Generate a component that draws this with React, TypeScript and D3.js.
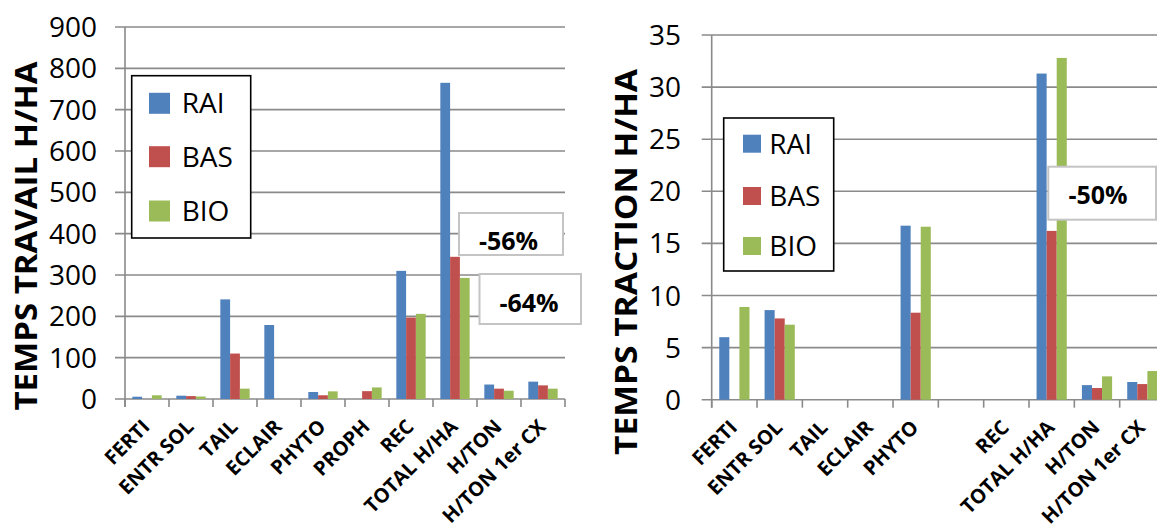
import React from "react";
import * as d3 from "d3";

const seriesNames = ["RAI", "BAS", "BIO"];
const seriesColors = ["#4f81bd", "#c0504d", "#9bbb59"];

const leftCategories = ["FERTI", "ENTR SOL", "TAIL", "ECLAIR", "PHYTO", "PROPH", "REC", "TOTAL H/HA", "H/TON", "H/TON 1er CX"];
const leftRAI = [5.5, 8, 241, 179, 17, 0, 310, 765, 35, 42];
const leftBAS = [0, 7, 110, 0, 9, 19, 197, 344, 25, 33];
const leftBIO = [9, 6, 25, 0, 18.5, 28, 206, 293, 20, 25];
const leftTicks = [0, 100, 200, 300, 400, 500, 600, 700, 800, 900];

const rightCategories = ["FERTI", "ENTR SOL", "TAIL", "ECLAIR", "PHYTO", "", "REC", "TOTAL H/HA", "H/TON", "H/TON 1er CX"];
const rightRAI = [6, 8.6, 0, 0, 16.7, 0, 0, 31.3, 1.4, 1.7];
const rightBAS = [0, 7.8, 0, 0, 8.35, 0, 0, 16.2, 1.12, 1.5];
const rightBIO = [8.9, 7.2, 0, 0, 16.6, 0, 0, 32.8, 2.24, 2.75];
const rightTicks = [0, 5, 10, 15, 20, 25, 30, 35];

const FONT = "'Open Sans', sans-serif";
const GRID = "#8a8a8a";

type ChartProps = {
  categories: string[];
  values: number[][];
  ticks: number[];
  x0: number;
  x1: number;
  yTop: number;
  yBottom: number;
  yMax: number;
  gridLeft: number;
  tickLabelX: number;
  title: string;
  titleX: number;
  titleCenterY: number;
  titleLength: number;
  legend: { x: number; y: number; w: number; h: number; sw: number; rows: number[]; textX: number; swX: number };
  notes: { x: number; y: number; w: number; h: number; text: string; tx: number; ty: number }[];
};

function BarChart(p: ChartProps) {
  const idx = p.categories.map((_, i) => String(i));
  const x = d3.scaleBand<string>().domain(idx).range([p.x0, p.x1]).paddingInner(0).paddingOuter(0);
  const xs = d3.scaleBand<string>().domain(seriesNames).range([0, x.bandwidth()]).paddingInner(0).paddingOuter(0.75);
  const y = d3.scaleLinear().domain([0, p.yMax]).range([p.yBottom, p.yTop]);
  const boundaries = d3.range(p.categories.length + 1).map((i) => p.x0 + i * x.step());
  return (
    <g>
      {p.ticks.map((t) => (
        <g key={"g" + t}>
          <line x1={p.gridLeft} x2={p.x1} y1={y(t)} y2={y(t)} stroke={GRID} strokeWidth={1.6} />
          <text x={p.tickLabelX} y={y(t) + 10} textAnchor="end" fontFamily={FONT} fontSize={28} fill="#000">
            {t}
          </text>
        </g>
      ))}
      <line x1={p.x0} x2={p.x0} y1={p.yTop} y2={p.yBottom + 8} stroke={GRID} strokeWidth={1.6} />
      {boundaries.map((bx, i) => (
        <line key={"t" + i} x1={bx} x2={bx} y1={p.yBottom} y2={p.yBottom + 8} stroke={GRID} strokeWidth={1.6} />
      ))}
      {p.values.map((vals, s) =>
        vals.map((v, i) =>
          v > 0 ? (
            <rect
              key={s + "-" + i}
              x={(x(String(i)) as number) + (xs(seriesNames[s]) as number)}
              y={y(v)}
              width={xs.bandwidth()}
              height={p.yBottom - y(v)}
              fill={seriesColors[s]}
            />
          ) : null
        )
      )}
      {p.categories.map((c, i) => {
        const cx = (x(String(i)) as number) + x.bandwidth() / 2 + 4;
        const cy = p.yBottom + 29;
        return (
          <text
            key={"c" + i}
            transform={`translate(${cx},${cy}) rotate(-45)`}
            textAnchor="end"
            fontFamily={FONT}
            fontWeight="bold"
            fontSize={20}
            fill="#000"
          >
            {c}
          </text>
        );
      })}
      <text
        transform={`translate(${p.titleX},${p.titleCenterY}) rotate(-90)`}
        textAnchor="middle"
        fontFamily={FONT}
        fontWeight="bold"
        fontSize={30}
        textLength={p.titleLength}
        lengthAdjust="spacingAndGlyphs"
        fill="#000"
      >
        {p.title}
      </text>
      <rect x={p.legend.x} y={p.legend.y} width={p.legend.w} height={p.legend.h} fill="#fff" stroke="#000" strokeWidth={1.6} />
      {seriesNames.map((n, s) => (
        <g key={"l" + n}>
          <rect
            x={p.legend.swX}
            y={p.legend.rows[s] - p.legend.sw / 2}
            width={p.legend.sw}
            height={p.legend.sw}
            fill={seriesColors[s]}
          />
          <text x={p.legend.textX} y={p.legend.rows[s] + 10} fontFamily={FONT} fontSize={28} fill="#000">
            {n}
          </text>
        </g>
      ))}
      {p.notes.map((n) => (
        <g key={n.text}>
          <rect x={n.x} y={n.y} width={n.w} height={n.h} fill="#fff" stroke="#c4c4c4" strokeWidth={2} />
          <text x={n.tx} y={n.ty} textAnchor="middle" fontFamily={FONT} fontWeight="bold" fontSize={25} fill="#000">
            {n.text}
          </text>
        </g>
      ))}
    </g>
  );
}

export default function App() {
  return (
    <svg
      width={1157}
      height={526}
      style={{ position: "absolute", left: 0, top: 0, background: "#fff" }}
      xmlns="http://www.w3.org/2000/svg"
    >
      <rect x={0} y={0} width={1157} height={526} fill="#fff" />
      <BarChart
        categories={leftCategories}
        values={[leftRAI, leftBAS, leftBIO]}
        ticks={leftTicks}
        x0={125}
        x1={565}
        yTop={27}
        yBottom={399}
        yMax={900}
        gridLeft={115}
        tickLabelX={97}
        title="TEMPS TRAVAIL H/HA"
        titleX={36.5}
        titleCenterY={236}
        titleLength={349}
        legend={{ x: 131.7, y: 75.7, w: 119, h: 162.3, sw: 21, rows: [103.3, 156.7, 211], textX: 181.7, swX: 149 }}
        notes={[
          { x: 459, y: 213, w: 104, h: 42, text: "-56%", tx: 508.5, ty: 250 },
          { x: 479.5, y: 274, w: 101.5, h: 50, text: "-64%", tx: 529, ty: 311.5 },
        ]}
      />
      <BarChart
        categories={rightCategories}
        values={[rightRAI, rightBAS, rightBIO]}
        ticks={rightTicks}
        x0={711.7}
        x1={1165}
        yTop={35}
        yBottom={399.7}
        yMax={35}
        gridLeft={701.7}
        tickLabelX={681}
        title="TEMPS TRACTION H/HA"
        titleX={636.5}
        titleCenterY={262}
        titleLength={386}
        legend={{ x: 723.7, y: 118, w: 110, h: 153, sw: 18, rows: [143.7, 196, 246], textX: 769.3, swX: 743 }}
        notes={[{ x: 1048.3, y: 166.7, w: 107.7, h: 53, text: "-50%", tx: 1098, ty: 204 }]}
      />
    </svg>
  );
}
